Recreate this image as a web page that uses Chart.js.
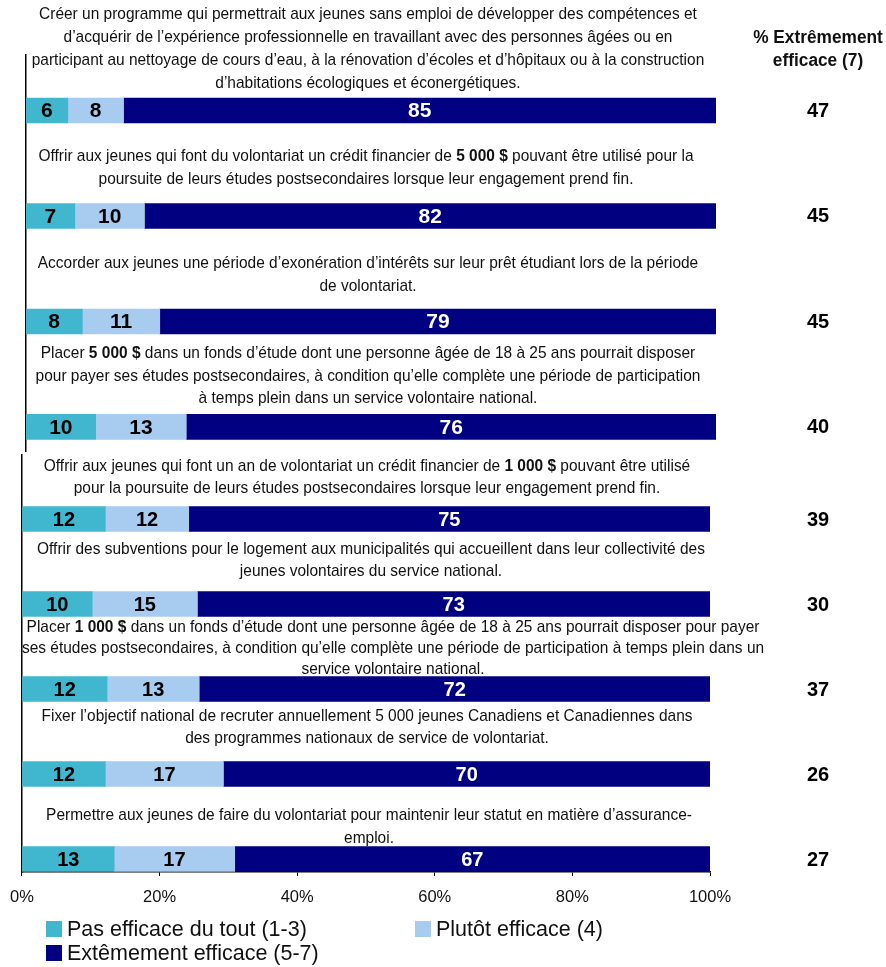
<!DOCTYPE html>
<html>
<head>
<meta charset="utf-8">
<script src="https://cdn.jsdelivr.net/npm/chart.js@4.4.1/dist/chart.umd.min.js"></script>
<style>
body { margin: 0; background: #fff; }
#wrap { position: relative; width: 886px; height: 967px; overflow: hidden; background: #fff;
        font-family: "Liberation Sans", Arial, sans-serif; color: #111; }
canvas { position: absolute; left: 0; }
.q { position: absolute; text-align: center; font-size: 17px; white-space: nowrap;
     transform: scaleX(0.91); transform-origin: 50% 0; }
.q b { font-weight: bold; }
.head { position: absolute; left: 738px; width: 160px; top: 26px; text-align: center; white-space: nowrap;
        font-weight: bold; font-size: 18px; line-height: 23px; transform: scaleX(0.96); transform-origin: 50% 0; }
.leg { position: absolute; font-size: 21.5px; line-height: 24px; white-space: nowrap; }
.leg i { display: inline-block; width: 16px; height: 16px; margin-right: 5px; vertical-align: -1px; }
</style>
</head>
<body>
<div id="wrap">
  <canvas id="topChart"></canvas>
  <canvas id="bottomChart"></canvas>
  <div class="head">% Extrêmement<br>efficace (7)</div>
</div>
<script>
// questions (already split on the lines used in the report)
const questions = [
    "Créer un programme qui permettrait aux jeunes sans emploi de développer des compétences et<br>d’acquérir de l’expérience professionnelle en travaillant avec des personnes âgées ou en<br>participant au nettoyage de cours d’eau, à la rénovation d’écoles et d’hôpitaux ou à la construction<br>d’habitations écologiques et éconergétiques.",
    "Offrir aux jeunes qui font du volontariat un crédit financier de <b>5 000 $</b> pouvant être utilisé pour la<br>poursuite de leurs études postsecondaires lorsque leur engagement prend fin.",
    "Accorder aux jeunes une période d’exonération d’intérêts sur leur prêt étudiant lors de la période<br>de volontariat.",
    "Placer <b>5 000 $</b> dans un fonds d’étude dont une personne âgée de 18 à 25 ans pourrait disposer<br>pour payer ses études postsecondaires, à condition qu’elle complète une période de participation<br>à temps plein dans un service volontaire national.",
    "Offrir aux jeunes qui font un an de volontariat un crédit financier de <b>1 000 $</b> pouvant être utilisé<br>pour la poursuite de leurs études postsecondaires lorsque leur engagement prend fin.",
    "Offrir des subventions pour le logement aux municipalités qui accueillent dans leur collectivité des<br>jeunes volontaires du service national.",
    "Placer <b>1 000 $</b> dans un fonds d’étude dont une personne âgée de 18 à 25 ans pourrait disposer pour payer<br>ses études postsecondaires, à condition qu’elle complète une période de participation à temps plein dans un<br>service volontaire national.",
    "Fixer l’objectif national de recruter annuellement 5 000 jeunes Canadiens et Canadiennes dans<br>des programmes nationaux de service de volontariat.",
    "Permettre aux jeunes de faire du volontariat pour maintenir leur statut en matière d’assurance-<br>emploi."
];
const pasEfficace = [6, 7, 8, 10, 12, 10, 12, 12, 13];
const plutotEfficace = [8, 10, 11, 13, 12, 15, 13, 17, 17];
const extEfficace = [85, 82, 79, 76, 75, 73, 72, 70, 67];
const extremement7 = [47, 45, 45, 40, 39, 30, 37, 26, 27];
const seriesLabels = ['Pas efficace du tout (1-3)', 'Plutôt efficace (4)', 'Extêmement efficace (5-7)'];
const xTicks = [0, 20, 40, 60, 80, 100];

const seriesColors = ['#40B7CE', '#A8CBF0', '#000080'];
const ARIAL = '"Liberation Sans", Arial, sans-serif';

// layout of the question texts: top of first line, line height, center x
const qLayout = [
    [2, 23, 368], [144, 23, 366], [251, 23, 368], [342, 22.5, 368], [455, 22, 367],
    [538, 22, 371], [616, 21, 393], [705, 22, 367], [803, 23, 369]
];

const wrap = document.getElementById('wrap');
questions.forEach((q, i) => {
    const d = document.createElement('div');
    d.className = 'q';
    d.innerHTML = q;
    d.style.top = qLayout[i][0] + 'px';
    d.style.lineHeight = qLayout[i][1] + 'px';
    d.style.left = (qLayout[i][2] - 450) + 'px';
    d.style.width = '900px';
    wrap.appendChild(d);
});

// legend
const legPos = [[46, 917], [415, 917], [46, 941]];
seriesLabels.forEach((lab, i) => {
    const d = document.createElement('div');
    d.className = 'leg';
    d.style.left = legPos[i][0] + 'px';
    d.style.top = legPos[i][1] + 'px';
    d.innerHTML = '<i style="background:' + seriesColors[i] + '"></i>' + lab;
    wrap.appendChild(d);
});

// value labels inside the bars and the "% extrêmement efficace" column
const barLabels = {
    id: 'barLabels',
    afterDatasetsDraw(chart, args, opts) {
        const ctx = chart.ctx;
        ctx.save();
        ctx.textAlign = 'center';
        ctx.textBaseline = 'middle';
        chart.data.datasets.forEach((ds, di) => {
            const meta = chart.getDatasetMeta(di);
            meta.data.forEach((bar, j) => {
                ctx.font = opts.font;
                ctx.fillStyle = di === 2 ? '#fff' : '#000';
                ctx.fillText(ds.raw[j], (bar.x + bar.base) / 2, bar.y + 1);
                if (di === 0) {
                    ctx.font = 'bold 20px ' + ARIAL;
                    ctx.fillStyle = '#000';
                    ctx.fillText(ds.ext7[j], 818, bar.y + 1);
                }
            });
        });
        ctx.restore();
    }
};

function makeChart(id, from, to, cfg) {
    const canvas = document.getElementById(id);
    canvas.width = 886;
    canvas.height = cfg.height;
    canvas.style.top = cfg.top + 'px';
    const series = [pasEfficace, plutotEfficace, extEfficace];
    const datasets = series.map((vals, s) => {
        const raw = vals.slice(from, to);
        return {
            label: seriesLabels[s],
            raw: raw,
            ext7: extremement7.slice(from, to),
            // 100% stacked: each answer as share of the row total
            data: raw.map((v, j) => {
                const total = pasEfficace[from + j] + plutotEfficace[from + j] + extEfficace[from + j];
                return { x: v / total * 100, y: j };
            }),
            backgroundColor: seriesColors[s],
            barThickness: 25,
            borderWidth: 0
        };
    });
    return new Chart(canvas, {
        type: 'bar',
        data: { datasets: datasets },
        options: {
            indexAxis: 'y',
            responsive: false,
            animation: false,
            layout: { padding: cfg.padding },
            plugins: {
                legend: { display: false },
                tooltip: { enabled: false },
                barLabels: { font: cfg.labelFont }
            },
            scales: {
                x: {
                    type: 'linear',
                    stacked: true,
                    min: 0,
                    max: 100,
                    display: cfg.showX,
                    afterFit: s => { s.height = cfg.showX ? 40 : 0; },
                    afterBuildTicks: s => { s.ticks = xTicks.map(v => ({ value: v })); },
                    ticks: { callback: v => v + '%', color: '#111', font: { family: ARIAL, size: 16.5, lineHeight: 1.4 },
                             padding: 10, maxRotation: 0, minRotation: 0 },
                    grid: { drawOnChartArea: false, drawTicks: true, tickLength: 4, color: '#000' },
                    border: { color: '#000', width: 1.5 }
                },
                y: {
                    type: 'linear',
                    stacked: true,
                    reverse: true,
                    offset: false,
                    min: cfg.yMin,
                    max: cfg.yMax,
                    ticks: { display: false },
                    grid: { display: false, drawTicks: false, offset: false },
                    border: { color: '#000', width: 1.5 }
                }
            }
        },
        plugins: [barLabels]
    });
}

makeChart('topChart', 0, 4, {
    top: 0, height: 460, showX: false,
    padding: { top: 55, bottom: 9, left: 26, right: 170 },
    yMin: -0.526, yMax: 3.228,
    labelFont: 'bold 21px ' + ARIAL
});
makeChart('bottomChart', 4, 9, {
    top: 440, height: 480, showX: true,
    padding: { top: 15, bottom: 8, left: 21, right: 176 },
    yMin: -0.753, yMax: 4.153,
    labelFont: 'bold 20px ' + ARIAL
});
</script>
</body>
</html>
